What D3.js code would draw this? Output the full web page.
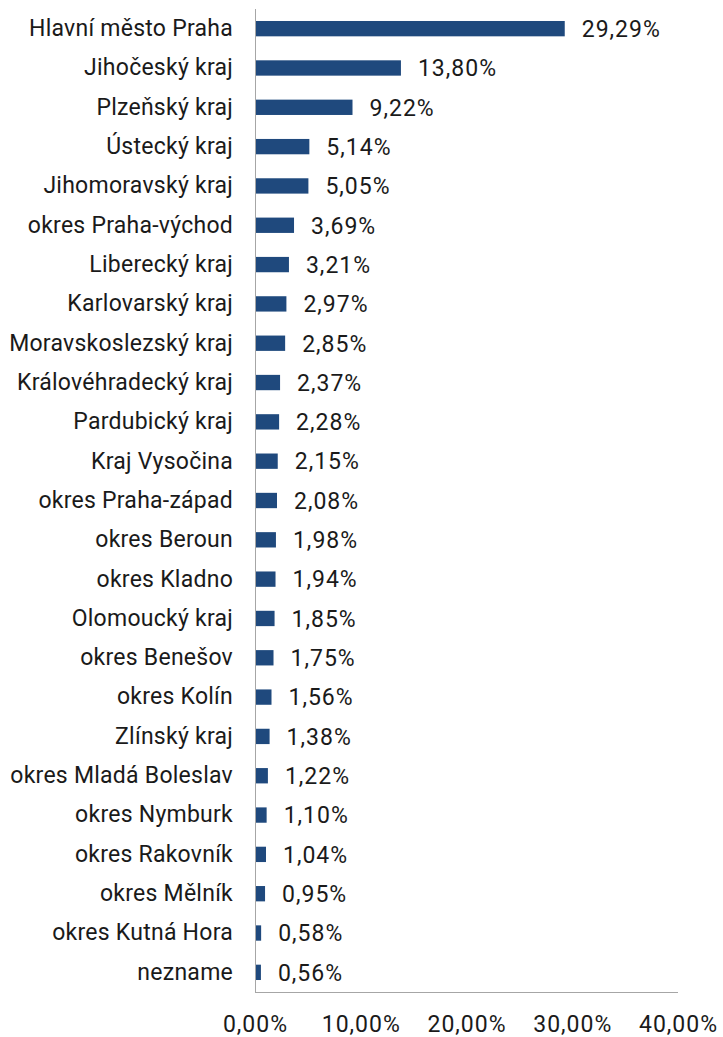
<!DOCTYPE html>
<html><head><meta charset="utf-8">
<script src="https://cdn.jsdelivr.net/npm/d3@7"></script>
<style>
html,body{margin:0;padding:0;background:#fff;}
text{font-family:Roboto, "Noto Sans", sans-serif;fill:#1a1a1a;}
</style></head>
<body><svg id="c" width="723" height="1037"></svg>
<script>
const categories = ["Hlavní město Praha","Jihočeský kraj","Plzeňský kraj","Ústecký kraj","Jihomoravský kraj","okres Praha-východ","Liberecký kraj","Karlovarský kraj","Moravskoslezský kraj","Královéhradecký kraj","Pardubický kraj","Kraj Vysočina","okres Praha-západ","okres Beroun","okres Kladno","Olomoucký kraj","okres Benešov","okres Kolín","Zlínský kraj","okres Mladá Boleslav","okres Nymburk","okres Rakovník","okres Mělník","okres Kutná Hora","nezname"];
const values = [29.29,13.80,9.22,5.14,5.05,3.69,3.21,2.97,2.85,2.37,2.28,2.15,2.08,1.98,1.94,1.85,1.75,1.56,1.38,1.22,1.10,1.04,0.95,0.58,0.56];
const xTicks = [0,10,20,30,40];

const svg = d3.select("#c");
const mLeft = 255, mRight = 678, mTop = 9, mBottom = 992;
const fs = 23;
const fmt = v => v.toFixed(2).replace(".", ",") + "%";

const x = d3.scaleLinear().domain([0,40]).range([mLeft,mRight]);
const y = d3.scaleBand().domain(categories).range([mTop,mBottom]).paddingInner(0.61).paddingOuter(0.305);

svg.selectAll("rect.bar").data(values).join("rect")
  .attr("class","bar")
  .attr("x", x(0))
  .attr("y", (d,i)=>y(categories[i]))
  .attr("width", d=>x(d)-x(0))
  .attr("height", y.bandwidth())
  .attr("fill","#1f497d");

svg.selectAll("text.val").data(values).join("text")
  .attr("class","val")
  .attr("x", d=>x(d)+17)
  .attr("y", (d,i)=>y(categories[i])+y.bandwidth()/2)
  .attr("dy","0.36em")
  .style("font-size", fs+"px")
  .style("letter-spacing","1px")
  .text(fmt);

const yAxis = svg.append("g").attr("transform",`translate(${mLeft},0)`)
  .call(d3.axisLeft(y).tickSize(0).tickPadding(22));
yAxis.selectAll("text").style("font-size", fs+"px").style("letter-spacing","0.25px").style("font-family","Roboto, sans-serif").attr("fill","#1a1a1a");
yAxis.select(".domain").attr("stroke","#a6a6a6").attr("stroke-width",1).attr("d",`M0.5,${mTop}V${mBottom}`);

const xAxis = svg.append("g").attr("transform",`translate(0,${mBottom})`)
  .call(d3.axisBottom(x).tickValues(xTicks).tickSize(0).tickPadding(24).tickFormat(fmt));
xAxis.selectAll("text").style("font-size", fs+"px").style("letter-spacing","1px").style("font-family","Roboto, sans-serif").attr("fill","#1a1a1a");
xAxis.select(".domain").attr("stroke","#a6a6a6").attr("stroke-width",1).attr("d",`M${mLeft},0.5H${mRight}`);
</script></body></html>
